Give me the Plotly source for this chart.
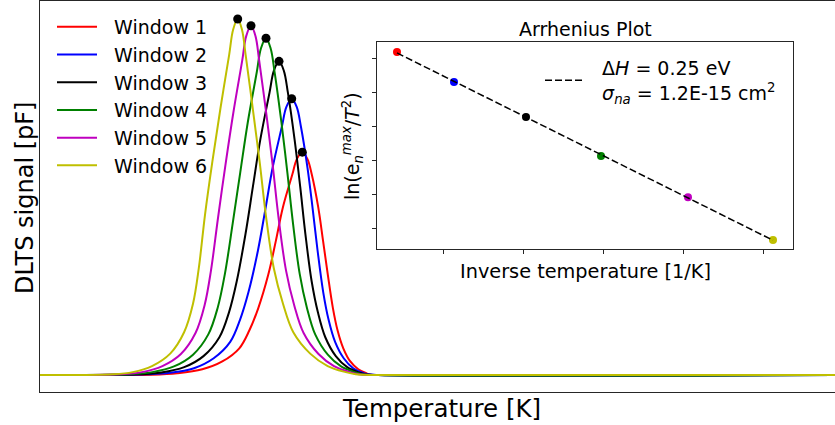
import numpy as np
import plotly.graph_objects as go

# ---------------- data ----------------
windows = ["Window 1", "Window 2", "Window 3", "Window 4", "Window 5", "Window 6"]
colors = ["#ff0000", "#0000ff", "#000000", "#008000", "#bf00bf", "#bfbf00"]

temp_w1 = [50, 106.15, 118.65, 131.15, 141.15, 149.65, 154.65, 159.15, 164.15, 167.9, 171.4, 176.15, 178.45, 181.15,
           183.7, 185.9, 189.15, 191.55, 193.9, 196.45, 198.8, 201.65, 205.15, 209.15, 213.15, 215.15, 219, 447.5]
sig_w1 = [0, .001, .005, .016, .038, .075, .125, .188, .282, .376, .470, .563, .607, .626,
          .607, .563, .470, .376, .282, .188, .125, .075, .038, .016, .005, .001, 0, 0]

temp_w2 = [50, 102.9, 115, 127, 136.85, 145.1, 150, 154.25, 158.95, 162.7, 166.3, 170.95, 173.2, 175.85,
           178.35, 180.45, 183.75, 186.35, 188.8, 191.6, 194.3, 197.55, 201.85, 206.6, 211.45, 213.9, 219, 447.5]
sig_w2 = [0, .002, .006, .019, .047, .093, .155, .233, .349, .466, .582, .698, .753, .776,
          .753, .698, .582, .466, .349, .233, .155, .093, .047, .019, .006, .002, 0, 0]

temp_w3 = [50, 99, 110.6, 122.1, 131.75, 139.7, 144.5, 148.4, 152.75, 156.45, 160.15, 164.75, 166.95, 169.5,
           171.9, 173.95, 177.3, 180.1, 182.7, 185.8, 188.95, 192.65, 197.9, 203.6, 209.4, 212.5, 219, 447.5]
sig_w3 = [0, .002, .007, .022, .053, .106, .176, .264, .396, .529, .661, .793, .855, .881,
          .855, .793, .661, .529, .396, .264, .176, .106, .053, .022, .007, .002, 0, 0]

temp_w4 = [50, 95, 106.1, 117, 126.5, 134.15, 138.85, 142.45, 146.35, 150.1, 153.9, 158.4, 160.5, 163,
           165.3, 167.3, 170.7, 173.7, 176.5, 179.85, 183.45, 187.6, 193.9, 200.55, 207.35, 211.05, 219, 447.5]
sig_w4 = [0, .002, .008, .024, .057, .114, .189, .284, .426, .568, .710, .851, .918, .946,
          .918, .851, .710, .568, .426, .284, .189, .114, .057, .024, .008, .002, 0, 0]

temp_w5 = [50, 90.4, 100.95, 111.2, 120.45, 127.75, 132.3, 135.5, 139.0, 142.7, 146.65, 151.1, 153.1, 155.5,
           157.75, 159.6, 163.1, 166.35, 169.3, 173.0, 177.1, 181.8, 189.25, 197.0, 204.95, 209.35, 219, 447.5]
sig_w5 = [0, .002, .008, .025, .059, .118, .196, .294, .441, .589, .736, .883, .952, .981,
          .952, .883, .736, .589, .441, .294, .196, .118, .059, .025, .008, .002, 0, 0]

temp_w6 = [50, 86.35, 96.35, 106.0, 115.1, 122.05, 126.5, 129.4, 132.5, 136.2, 140.25, 144.6, 146.55, 148.85,
           151.0, 152.8, 156.35, 159.8, 162.9, 166.9, 171.5, 176.65, 185.1, 193.85, 202.85, 207.85, 219, 447.5]
sig_w6 = [0, .002, .008, .025, .06, .12, .2, .3, .45, .6, .75, .9, .97, 1.0,
          .97, .9, .75, .6, .45, .3, .2, .12, .06, .025, .008, .002, 0, 0]

peak_temp = [181.15, 175.85, 169.5, 163.0, 155.5, 148.85]
peak_signal = [0.626, 0.776, 0.881, 0.946, 0.981, 1.0]

# Arrhenius inset
inv_temp = [0.005485, 0.0056275, 0.0058075, 0.005995, 0.0062125, 0.006425]
ln_rate = [-3.815, -4.697, -5.726, -6.874, -8.088, -9.344]
inset_xticks = [0.0056, 0.0058, 0.0060, 0.0062, 0.0064]
inset_yticks = [-4, -5, -6, -7, -8, -9]
NB = "\u00a0\u00a0"
fit_label = NB + "Δ<i>H</i> = 0.25 eV<br>" + NB + "<i>σ<sub>na</sub></i> = 1.2E-15 cm<sup>2</sup>"

temps = [temp_w1, temp_w2, temp_w3, temp_w4, temp_w5, temp_w6]
sigs = [sig_w1, sig_w2, sig_w3, sig_w4, sig_w5, sig_w6]

FONT = "DejaVu Sans"
AX = "#262626"

fig = go.Figure()

for name, col, t, s in zip(windows, colors, temps, sigs):
    fig.add_trace(go.Scatter(x=t, y=s, mode="lines", name=NB + name,
                             line=dict(color=col, width=2, shape="spline", smoothing=1.0),
                             xaxis="x", yaxis="y", legend="legend"))

fig.add_trace(go.Scatter(x=peak_temp, y=peak_signal, mode="markers", showlegend=False,
                         marker=dict(color="black", size=9), xaxis="x", yaxis="y"))

# inset points
fig.add_trace(go.Scatter(x=inv_temp, y=ln_rate, mode="markers", showlegend=False,
                         marker=dict(color=colors, size=8), xaxis="x2", yaxis="y2"))

# linear fit
coef = np.polyfit(inv_temp, ln_rate, 1)
fx = np.array([min(inv_temp), max(inv_temp)])
fy = np.polyval(coef, fx)
fig.add_trace(go.Scatter(x=fx, y=fy, mode="lines", name=fit_label,
                         line=dict(color="black", width=1.5, dash="7px,3px"),
                         xaxis="x2", yaxis="y2", legend="legend2"))

W, H = 835, 425
L, R, T, B = 40, 0, 1, 33
pw, ph = W - L - R, H - T - B


def px_x(p):
    return (p - L) / pw


def px_y(p):
    return (H - B - p) / ph


fig.update_layout(
    width=W, height=H,
    margin=dict(l=L, r=R, t=T, b=B),
    paper_bgcolor="white", plot_bgcolor="white",
    font=dict(family=FONT, color="black"),
    xaxis=dict(range=[50, 447.5], showline=True, mirror=True, linecolor=AX, linewidth=1,
               showgrid=False, zeroline=False, showticklabels=False, ticks=""),
    yaxis=dict(range=[-0.0478, 1.0506], showline=True, linecolor=AX, linewidth=1,
               showgrid=False, zeroline=False, showticklabels=False, ticks=""),
    xaxis2=dict(domain=[px_x(377), px_x(793)], anchor="y2", range=[0.005435, 0.006475],
                showline=True, mirror=True, linecolor=AX, linewidth=1, showgrid=False, zeroline=False,
                showticklabels=False, ticks="outside", ticklen=4, tickcolor=AX, tickvals=inset_xticks),
    yaxis2=dict(domain=[px_y(249), px_y(42)], anchor="x2", range=[-9.609, -3.52],
                showline=True, mirror=True, linecolor=AX, linewidth=1, showgrid=False, zeroline=False,
                showticklabels=False, ticks="outside", ticklen=4, tickcolor=AX, tickvals=inset_yticks),
    legend=dict(x=px_x(52), y=px_y(8), xanchor="left", yanchor="top",
                font=dict(family=FONT, size=19, color="black"), bgcolor="rgba(0,0,0,0)",
                itemwidth=40, tracegroupgap=0),
    legend2=dict(x=px_x(540), y=px_y(49), xanchor="left", yanchor="top",
                 font=dict(family=FONT, size=19, color="black"), bgcolor="rgba(0,0,0,0)",
                 itemwidth=40),
    showlegend=True,
)

ann = [
    dict(text="Temperature [K]", x=px_x(441), y=px_y(408), font=dict(size=24.5)),
    dict(text="DLTS signal [pF]", x=px_x(25), y=px_y(198), textangle=-90, font=dict(size=24)),
    dict(text="Arrhenius Plot", x=px_x(585), y=px_y(29), font=dict(size=19)),
    dict(text="Inverse temperature [1/K]", x=px_x(585), y=px_y(271), font=dict(size=19.3)),
    dict(text="ln(e<sub><i>n</i></sub><sup><i>max</i></sup>/<i>T</i><sup>2</sup>)",
         x=px_x(352), y=px_y(146), textangle=-90, font=dict(size=19)),
]
for a in ann:
    fig.add_annotation(xref="paper", yref="paper", showarrow=False, xanchor="center", yanchor="middle",
                       font=dict(family=FONT, color="black", size=a["font"]["size"]),
                       **{k: v for k, v in a.items() if k != "font"})

fig.write_html("out.html")
